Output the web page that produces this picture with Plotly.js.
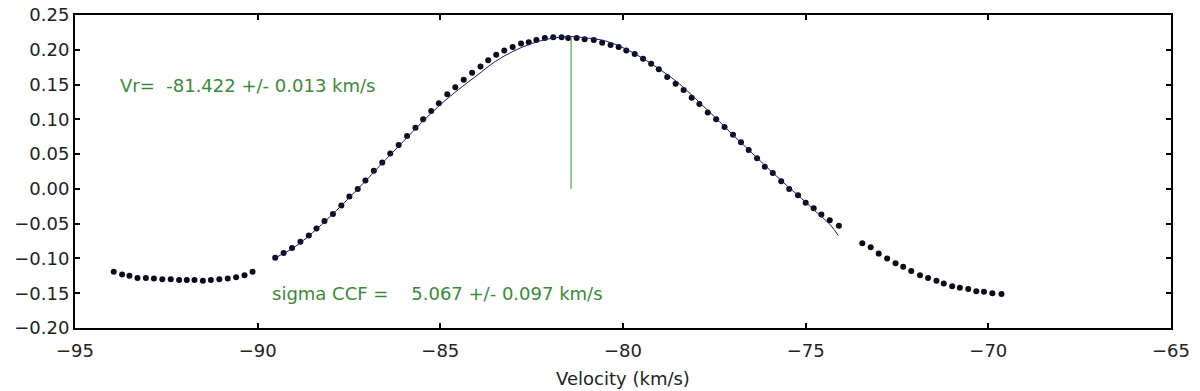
<!DOCTYPE html>
<html>
<head>
<meta charset="utf-8">
<script src="https://cdn.plot.ly/plotly-3.0.1.min.js"></script>
<style>
  html, body { margin: 0; padding: 0; background: #fff; }
  #plot { width: 1200px; height: 391px; }
</style>
</head>
<body>
<div id="plot"></div>
<script>
// CCF points, left wing (outside the fit)
const leftVel = [-93.94, -93.71, -93.51, -93.29, -93.06, -92.84, -92.61, -92.38, -92.15,
  -91.94, -91.73, -91.50, -91.28, -91.05, -90.82, -90.59, -90.36, -90.14];
const leftCcf = [-0.119, -0.123, -0.125, -0.128, -0.128, -0.129, -0.130, -0.130, -0.131,
  -0.131, -0.131, -0.132, -0.131, -0.130, -0.129, -0.127, -0.124, -0.119];

// CCF points used in the fit
const midVel = [-89.52, -89.29, -89.06, -88.83, -88.60, -88.39, -88.17, -87.94, -87.71, -87.49,
  -87.26, -87.05, -86.82, -86.59, -86.37, -86.14, -85.91, -85.68, -85.47, -85.25,
  -85.04, -84.81, -84.59, -84.36, -84.13, -83.90, -83.69, -83.47, -83.25, -83.02,
  -82.79, -82.58, -82.37, -82.14, -81.91, -81.68, -81.50, -81.27, -81.05, -80.80,
  -80.57, -80.34, -80.12, -79.91, -79.68, -79.45, -79.23, -79.02, -78.79, -78.56,
  -78.34, -78.12, -77.91, -77.68, -77.45, -77.22, -76.99, -76.77, -76.56, -76.33,
  -76.12, -75.90, -75.67, -75.45, -75.21, -75.00, -74.78, -74.57, -74.34, -74.09];
const midCcf = [-0.099, -0.092, -0.085, -0.076, -0.067, -0.057, -0.046, -0.036, -0.024, -0.011,
  0.000, 0.012, 0.026, 0.038, 0.051, 0.063, 0.076, 0.088, 0.100, 0.112,
  0.123, 0.136, 0.146, 0.157, 0.167, 0.176, 0.185, 0.193, 0.199, 0.204,
  0.209, 0.211, 0.214, 0.217, 0.218, 0.218, 0.217, 0.217, 0.215, 0.214,
  0.210, 0.207, 0.204, 0.199, 0.194, 0.187, 0.180, 0.172, 0.161, 0.151,
  0.142, 0.131, 0.122, 0.110, 0.100, 0.089, 0.078, 0.067, 0.056, 0.044,
  0.032, 0.023, 0.011, 0.000, -0.009, -0.020, -0.028, -0.037, -0.045, -0.053];

// CCF points, right wing
const rightVel = [-73.45, -73.22, -73.00, -72.77, -72.54, -72.33, -72.11, -71.87, -71.65,
  -71.42, -71.22, -70.99, -70.78, -70.55, -70.33, -70.12, -69.89, -69.64];
const rightCcf = [-0.078, -0.084, -0.093, -0.100, -0.107, -0.112, -0.118, -0.124, -0.128,
  -0.132, -0.136, -0.140, -0.142, -0.144, -0.147, -0.148, -0.150, -0.151];

// gaussian fit curve
const fitVel = [-89.55, -89.0, -88.5, -88.0, -87.5, -87.0, -86.5, -86.0, -85.5, -85.0,
  -84.5, -84.0, -83.5, -83.0, -82.5, -82.0, -81.42, -81.0, -80.5, -80.0,
  -79.5, -79.0, -78.5, -78.0, -77.5, -77.0, -76.5, -76.0, -75.5, -75.0,
  -74.78, -74.32, -74.11];
const fitCcf = [-0.100, -0.084, -0.063, -0.039, -0.013, 0.014, 0.042, 0.069, 0.096, 0.121,
  0.143, 0.163, 0.183, 0.198, 0.209, 0.216, 0.219, 0.217, 0.213, 0.203,
  0.189, 0.172, 0.153, 0.129, 0.104, 0.078, 0.053, 0.028, 0.004, -0.019,
  -0.030, -0.052, -0.067];

// radial velocity marker
const vr = -81.422;
const vrErr = 0.013;
const sigma = 5.067;
const sigmaErr = 0.097;
const peakCcf = 0.218;

const dotStyle = { color: "#0b0b1a", size: 6, symbol: "circle" };

const data = [
  { x: leftVel, y: leftCcf, type: "scatter", mode: "markers", marker: dotStyle },
  { x: midVel, y: midCcf, type: "scatter", mode: "markers", marker: dotStyle },
  { x: rightVel, y: rightCcf, type: "scatter", mode: "markers", marker: dotStyle },
  { x: fitVel, y: fitCcf, type: "scatter", mode: "lines",
    line: { color: "#1c1c78", width: 1, shape: "spline" } },
  { x: [vr, vr], y: [0, peakCcf], type: "scatter", mode: "lines",
    line: { color: "#2a922a", width: 1 } },
];

const nb = "\u00a0";
const txtFont = { family: "DejaVu Sans", size: 18, color: "#222" };
const axisCommon = {
  showgrid: false,
  zeroline: false,
  showline: true,
  linecolor: "#000",
  linewidth: 2,
  mirror: "ticks",
  ticks: "inside",
  ticklen: 5,
  tickwidth: 2,
  tickcolor: "#000",
  tickfont: txtFont,
};

const layout = {
  width: 1200,
  height: 391,
  margin: { l: 75, r: 29, t: 15, b: 63 },
  paper_bgcolor: "#fff",
  plot_bgcolor: "#fff",
  showlegend: false,
  font: txtFont,
  xaxis: Object.assign({}, axisCommon, {
    range: [-95, -65],
    dtick: 5,
    tick0: -95,
    ticklabelstandoff: 5,
    title: { text: "Velocity (km/s)", font: txtFont, standoff: 13 },
  }),
  yaxis: Object.assign({}, axisCommon, {
    range: [-0.2, 0.25],
    dtick: 0.05,
    tick0: 0,
    tickformat: ".2f",
  }),
  annotations: [
    {
      x: -93.81, y: 0.149, xref: "x", yref: "y", xanchor: "left", yanchor: "middle",
      showarrow: false,
      text: "Vr=" + nb + nb + vr.toFixed(3) + " +/- " + vrErr.toFixed(3) + " km/s",
      font: { family: "DejaVu Sans", size: 18, color: "#3a8a3a" },
    },
    {
      x: -89.65, y: -0.150, xref: "x", yref: "y", xanchor: "left", yanchor: "middle",
      showarrow: false,
      text: "sigma CCF =" + nb + nb + nb + nb + sigma.toFixed(3) + " +/- " + sigmaErr.toFixed(3) + " km/s",
      font: { family: "DejaVu Sans", size: 18, color: "#3a8a3a" },
    },
  ],
};

Plotly.newPlot("plot", data, layout, { displayModeBar: false, staticPlot: true });
</script>
</body>
</html>
